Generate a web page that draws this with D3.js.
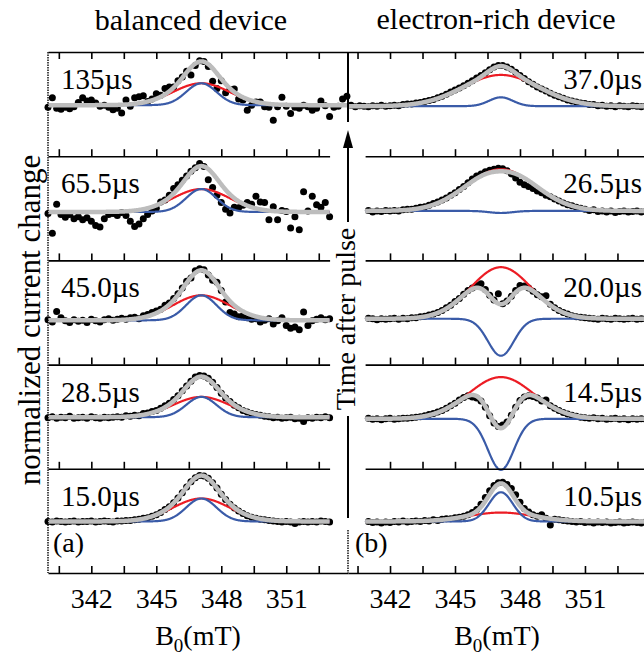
<html>
<script src="https://d3js.org/d3.v7.min.js"></script>
<style>
    body { margin: 0; background: white; }
    text { font-family: "Liberation Serif", "Times New Roman", serif; fill: black; }
</style>
<body>
<svg id="chart" width="644" height="657"></svg>
<script>
// field sweep (mT), shared by all panels
var field = [340.0, 340.2, 340.4, 340.6, 340.8, 341.0, 341.2, 341.4, 341.6, 341.8,
             342.0, 342.2, 342.4, 342.6, 342.8, 343.0, 343.2, 343.4, 343.6, 343.8,
             344.0, 344.2, 344.4, 344.6, 344.8, 345.0, 345.2, 345.4, 345.6, 345.8,
             346.0, 346.2, 346.4, 346.6, 346.8, 347.0, 347.2, 347.4, 347.6, 347.8,
             348.0, 348.2, 348.4, 348.6, 348.8, 349.0, 349.2, 349.4, 349.6, 349.8,
             350.0, 350.2, 350.4, 350.6, 350.8, 351.0, 351.2, 351.4, 351.6, 351.8,
             352.0, 352.2, 352.4, 352.6, 352.8, 353.0, 353.2, 353.4, 353.6, 353.8];

// balanced device, normalized current change
var balanced135 = [-0.06, 0.12, -0.08, -0.10, -0.06, -0.09, -0.05, 0.03, 0.12, 0.06,
                   0.08, 0.02, -0.04, -0.02, -0.06, -0.11, -0.08, -0.17, 0.08, -0.04,
                   0.12, 0.14, 0.16, 0.05, 0.10, 0.20, 0.17, 0.30, 0.33, 0.33,
                   0.45, 0.52, 0.63, 0.56, 0.74, 0.83, 0.82, 0.72, 0.44, 0.30,
                   0.45, 0.22, 0.28, 0.29, 0.10, 0.08, -0.12, -0.02, 0.04, 0.04,
                   -0.05, -0.06, -0.31, -0.05, 0.13, -0.04, -0.18, -0.06, -0.08, -0.02,
                   -0.05, -0.12, -0.08, 0.06, -0.03, -0.24, -0.06, -0.04, 0.10, 0.15];
var balanced65 = [-0.10, -0.48, 0.08, -0.12, -0.17, -0.12, -0.20, -0.16, -0.22, -0.18,
                  -0.25, -0.33, -0.36, -0.20, -0.12, -0.10, -0.14, -0.08, -0.14, -0.25,
                  -0.35, -0.30, -0.20, -0.12, -0.05, 0.00, 0.12, 0.16, 0.25, 0.38,
                  0.45, 0.54, 0.62, 0.71, 0.78, 0.86, 0.80, 0.55, 0.40, 0.25,
                  0.11, -0.02, -0.09, 0.02, 0.01, 0.06, 0.11, 0.08, 0.23, 0.12,
                  0.11, -0.22, 0.03, -0.22, -0.04, -0.06, -0.38, -0.16, -0.41, 0.32,
                  -0.05, 0.23, 0.07, 0.02, 0.11, -0.16, -0.08, -0.08, -0.08, -0.08];
var balanced45 = [-0.14, -0.18, 0.02, -0.10, -0.16, -0.19, -0.14, -0.17, -0.15, -0.19,
                  -0.13, -0.16, -0.18, -0.14, -0.12, -0.15, -0.13, -0.11, -0.13, -0.10,
                  -0.09, -0.12, -0.06, -0.04, 0.00, 0.03, 0.06, 0.14, 0.18, 0.27,
                  0.36, 0.47, 0.60, 0.66, 0.80, 0.84, 0.82, 0.72, 0.62, 0.58,
                  0.42, 0.20, 0.00, -0.03, -0.08, -0.06, -0.10, -0.13, -0.12, -0.18,
                  -0.15, -0.12, -0.22, -0.16, -0.10, -0.25, -0.30, -0.28, -0.33, 0.01,
                  -0.25, -0.16, -0.13, -0.10, -0.14, -0.12, -0.15, -0.15, -0.15, -0.15];
var balanced28 = [-0.02, 0.00, -0.03, -0.01, -0.02, 0.01, -0.03, -0.02, -0.01, -0.03,
                  0.00, -0.02, -0.03, -0.01, -0.02, -0.01, 0.00, -0.01, 0.02, 0.01,
                  0.03, 0.02, 0.06, 0.07, 0.10, 0.12, 0.16, 0.21, 0.26, 0.33,
                  0.40, 0.50, 0.59, 0.68, 0.76, 0.79, 0.78, 0.74, 0.66, 0.56,
                  0.45, 0.36, 0.29, 0.22, 0.17, 0.12, 0.09, 0.06, 0.04, 0.03,
                  0.01, 0.00, -0.02, -0.01, -0.03, -0.02, -0.01, -0.04, -0.03, -0.09,
                  -0.02, -0.03, -0.01, -0.02, 0.00, -0.02, -0.02, -0.02, -0.02, -0.02];
var balanced15 = [-0.01, -0.02, 0.00, -0.01, -0.02, -0.01, 0.00, -0.02, -0.01, -0.01,
                  0.00, -0.02, -0.01, 0.00, -0.01, -0.02, 0.00, 0.00, 0.01, 0.01,
                  0.02, 0.03, 0.05, 0.06, 0.09, 0.12, 0.16, 0.22, 0.27, 0.35,
                  0.44, 0.54, 0.65, 0.75, 0.83, 0.87, 0.86, 0.82, 0.73, 0.63,
                  0.51, 0.41, 0.32, 0.25, 0.19, 0.14, 0.10, 0.07, 0.05, 0.03,
                  0.02, 0.01, 0.00, -0.01, -0.02, -0.01, -0.02, -0.05, -0.02, -0.01,
                  -0.02, -0.01, -0.02, 0.00, -0.01, -0.02, -0.01, -0.01, -0.01, -0.01];

// electron-rich device
var rich37 = [-0.04, -0.02, -0.05, -0.03, -0.04, -0.05, -0.03, -0.04, -0.02, -0.04,
              -0.03, -0.02, -0.03, -0.01, 0.00, 0.00, 0.02, 0.03, 0.05, 0.07,
              0.09, 0.12, 0.15, 0.19, 0.23, 0.27, 0.31, 0.35, 0.40, 0.45,
              0.50, 0.55, 0.60, 0.66, 0.71, 0.74, 0.74, 0.71, 0.67, 0.61,
              0.55, 0.49, 0.43, 0.38, 0.33, 0.29, 0.25, 0.21, 0.17, 0.14,
              0.11, 0.08, 0.06, 0.04, 0.02, 0.01, -0.01, -0.01, -0.03, -0.02,
              -0.04, -0.03, -0.05, -0.03, -0.04, -0.05, -0.03, -0.04, -0.05, -0.04];
var rich26 = [-0.06, -0.04, -0.07, -0.05, -0.06, -0.04, -0.07, -0.05, -0.06, -0.04,
              -0.05, -0.04, -0.05, -0.03, -0.02, -0.02, 0.00, 0.02, 0.03, 0.06,
              0.09, 0.12, 0.16, 0.20, 0.25, 0.30, 0.36, 0.42, 0.49, 0.56,
              0.62, 0.66, 0.70, 0.73, 0.75, 0.77, 0.76, 0.72, 0.66, 0.58,
              0.50, 0.45, 0.42, 0.38, 0.33, 0.30, 0.25, 0.22, 0.18, 0.14,
              0.10, 0.07, 0.05, 0.02, 0.00, -0.02, -0.04, -0.03, -0.06, -0.05,
              -0.07, -0.05, -0.08, -0.06, -0.05, -0.07, -0.06, -0.05, -0.07, -0.06];
var rich20 = [-0.13, -0.11, -0.14, -0.12, -0.13, -0.11, -0.12, -0.14, -0.12, -0.13,
              -0.12, -0.11, -0.13, -0.11, -0.12, -0.10, -0.10, -0.08, -0.07, -0.05,
              -0.03, 0.00, 0.04, 0.09, 0.14, 0.21, 0.27, 0.35, 0.42, 0.47,
              0.52, 0.55, 0.44, 0.33, 0.24, 0.36, 0.17, 0.22, 0.31, 0.42,
              0.52, 0.51, 0.47, 0.41, 0.34, 0.30, 0.32, 0.16, 0.09, 0.04,
              0.00, -0.03, -0.06, -0.08, -0.09, -0.10, -0.11, -0.12, -0.13, -0.11,
              -0.12, -0.13, -0.11, -0.12, -0.13, -0.12, -0.11, -0.13, -0.12, -0.12];
var rich14 = [-0.05, -0.03, -0.04, -0.06, -0.04, -0.03, -0.05, -0.04, -0.06, -0.04,
              -0.03, -0.05, -0.04, -0.03, -0.03, -0.02, -0.01, 0.00, 0.02, 0.04,
              0.06, 0.09, 0.12, 0.16, 0.21, 0.26, 0.32, 0.37, 0.40, 0.38,
              0.36, 0.30, 0.18, 0.02, -0.12, -0.19, -0.16, -0.10, 0.03, 0.18,
              0.31, 0.38, 0.40, 0.39, 0.36, 0.30, 0.32, 0.21, 0.16, 0.12,
              0.08, 0.05, 0.03, 0.01, -0.01, -0.02, -0.03, -0.02, -0.04, -0.03,
              -0.05, -0.04, -0.03, -0.05, -0.04, -0.06, -0.04, -0.05, -0.04, -0.05];
var rich10 = [-0.03, -0.01, -0.04, -0.02, -0.05, -0.01, -0.03, -0.02, -0.04, -0.02,
              -0.03, -0.01, -0.02, 0.00, -0.02, -0.01, 0.00, -0.01, 0.01, 0.00,
              0.02, 0.01, 0.03, 0.04, 0.04, 0.06, 0.07, 0.09, 0.12, 0.16,
              0.22, 0.32, 0.45, 0.58, 0.68, 0.73, 0.74, 0.70, 0.62, 0.50,
              0.36, 0.24, 0.17, 0.12, 0.09, 0.12, 0.05, -0.08, 0.03, 0.02,
              0.01, 0.00, -0.01, -0.02, -0.01, -0.03, -0.02, -0.04, -0.02, -0.03,
              -0.02, -0.04, -0.03, -0.02, -0.04, -0.03, -0.02, -0.03, -0.04, -0.02];

// fit parameters: broad (red) + narrow (blue) Gaussian on a baseline
var balancedLabels = ["135\u00b5s", "65.5\u00b5s", "45.0\u00b5s", "28.5\u00b5s", "15.0\u00b5s"];
var balancedCenter = 347.08;
var balancedBase = [-0.02, -0.07, -0.15, -0.01, -0.01];
var balancedRedAmp = [0.42, 0.44, 0.48, 0.39, 0.44];
var balancedRedWidth = [1.3, 1.3, 1.3, 1.3, 1.3];
var balancedBlueAmp = [0.42, 0.44, 0.48, 0.39, 0.44];
var balancedBlueWidth = [0.7, 0.7, 0.7, 0.7, 0.7];

var richLabels = ["37.0\u00b5s", "26.5\u00b5s", "20.0\u00b5s", "14.5\u00b5s", "10.5\u00b5s"];
var richCenter = 347.12;
var richBase = [-0.04, -0.05, -0.12, -0.04, -0.01];
var richRedAmp = [0.60, 0.80, 0.99, 0.80, 0.17];
var richRedWidth = [1.75, 1.6, 1.4, 1.5, 1.5];
var richBlueAmp = [0.17, -0.04, -0.71, -0.98, 0.56];
var richBlueWidth = [0.55, 0.55, 0.6, 0.6, 0.55];

var tickValues = [340.5, 342, 343.5, 345, 346.5, 348, 349.5, 351, 352.5];
var tickLabels = [342, 345, 348, 351];

var balancedData = [balanced135, balanced65, balanced45, balanced28, balanced15];
var richData = [rich37, rich26, rich20, rich14, rich10];

var svg = d3.select("#chart");
var firstTop = 52, rowH = 104.2, bottomY = 573;
var xLeft = d3.scaleLinear().domain([340, 353.85]).range([48, 348]);
var xRight = d3.scaleLinear().domain([340, 353.85]).range([346.7, 646.7]);

function gauss(f, c, w) {
    return Math.exp(-(f - c) * (f - c) / (2 * w * w));
}

function drawPanel(xFull, extent, rowTop, values, fit) {
    var x = d3.scaleLinear().domain(extent).range(extent.map(xFull));
    var y = d3.scaleLinear().domain([-1, 1]).range([rowTop + rowH, rowTop]);
    var g = svg.append("g");

    var pts = field.map(function(f, i) { return {f: f, v: values[i]}; })
        .filter(function(d) { return d.f >= extent[0] - 1e-6 && d.f <= extent[1] + 1e-6; });
    g.selectAll("circle").data(pts).enter().append("circle")
        .attr("cx", function(d) { return x(d.f); })
        .attr("cy", function(d) { return y(d.v); })
        .attr("r", 3.5)
        .attr("fill", "black");

    var fine = d3.range(extent[0], extent[1] + 0.001, 0.02);
    var red = function(f) { return fit.base + fit.redAmp * gauss(f, fit.center, fit.redWidth); };
    var blue = function(f) { return fit.base + fit.blueAmp * gauss(f, fit.center, fit.blueWidth); };
    var sum = function(f) { return red(f) + blue(f) - fit.base; };
    var line = d3.line().x(function(d) { return x(d[0]); }).y(function(d) { return y(d[1]); });

    [[red, "#ec1c24", 2.2], [blue, "#3a5ba8", 2.2], [sum, "#bdbdbd", 4.5]].forEach(function(c) {
        g.append("path")
            .datum(fine.map(function(f) { return [f, c[0](f)]; }))
            .attr("d", line)
            .attr("fill", "none")
            .attr("stroke", c[1])
            .attr("stroke-width", c[2]);
    });
}

function drawAxis(xs, yPos, isTop, withLabels) {
    var dom = xs.domain();
    var ticks = tickValues.filter(function(t) { return t >= dom[0] && t <= dom[1]; });
    var axis = (isTop ? d3.axisTop(xs) : d3.axisBottom(xs))
        .tickValues(ticks)
        .tickSizeInner(-7)
        .tickSizeOuter(0)
        .tickPadding(15)
        .tickFormat(function(d) { return withLabels && tickLabels.indexOf(d) >= 0 ? d : ""; });
    var g = svg.append("g").attr("transform", "translate(0," + yPos + ")").call(axis);
    g.select(".domain").attr("stroke-width", 1.6);
    g.selectAll(".tick line").attr("stroke-width", 1.6);
    g.selectAll(".tick text")
        .attr("font-family", "Liberation Serif, serif")
        .attr("font-size", 28)
        .attr("fill", "black");
}

for (var i = 0; i < 5; i++) {
    var rowTop = firstTop + i * rowH;
    var leftExtent = i === 0 ? [340, 353.85] : [340, 353.0];
    var rightExtent = i === 0 ? [340.06, 353.85] : [340.85, 353.85];

    drawPanel(xLeft, leftExtent, rowTop, balancedData[i], {
        center: balancedCenter, base: balancedBase[i],
        redAmp: balancedRedAmp[i], redWidth: balancedRedWidth[i],
        blueAmp: balancedBlueAmp[i], blueWidth: balancedBlueWidth[i]
    });
    drawPanel(xRight, rightExtent, rowTop, richData[i], {
        center: richCenter, base: richBase[i],
        redAmp: richRedAmp[i], redWidth: richRedWidth[i],
        blueAmp: richBlueAmp[i], blueWidth: richBlueWidth[i]
    });

    svg.append("text").attr("x", 61).attr("y", rowTop + 37)
        .attr("font-size", 29).text(balancedLabels[i]);
    svg.append("text").attr("x", 642).attr("y", rowTop + 37)
        .attr("text-anchor", "end").attr("font-size", 29).text(richLabels[i]);

    // divider between stacked panels
    if (i > 0) {
        drawAxis(d3.scaleLinear().domain([340, 353.0]).range([xLeft(340), xLeft(353.0)]), rowTop, false, false);
        drawAxis(d3.scaleLinear().domain([340.85, 353.85]).range([xRight(340.85), xRight(353.85)]), rowTop, false, false);
    }
}

// outer frame
var xRightFrame = d3.scaleLinear().domain([340.06, 353.85]).range([xRight(340.06), xRight(353.85)]);
drawAxis(xLeft, firstTop, true, false);
drawAxis(xRightFrame, firstTop, true, false);
drawAxis(xLeft, bottomY, false, true);
drawAxis(xRightFrame, bottomY, false, true);

svg.append("line").attr("x1", 48).attr("x2", 48).attr("y1", firstTop).attr("y2", bottomY)
    .attr("stroke", "black").attr("stroke-width", 1.4).attr("stroke-dasharray", "1.5,1");
svg.append("line").attr("x1", 348).attr("x2", 348).attr("y1", 530).attr("y2", bottomY)
    .attr("stroke", "black").attr("stroke-width", 1.4).attr("stroke-dasharray", "1.5,1");
svg.append("line").attr("x1", 348).attr("x2", 348).attr("y1", firstTop).attr("y2", 122)
    .attr("stroke", "black").attr("stroke-width", 2);

// time arrow
svg.append("path").attr("d", "M348,130 L343,148 L353,148 Z").attr("fill", "black");
svg.append("line").attr("x1", 348).attr("x2", 348).attr("y1", 146).attr("y2", 222)
    .attr("stroke", "black").attr("stroke-width", 2);
svg.append("line").attr("x1", 348).attr("x2", 348).attr("y1", 416).attr("y2", 518)
    .attr("stroke", "black").attr("stroke-width", 2);
svg.append("text").attr("transform", "translate(355,319) rotate(-90)")
    .attr("text-anchor", "middle").attr("font-size", 28).text("Time after pulse");

// titles and axis labels
svg.append("text").attr("x", 191).attr("y", 30).attr("text-anchor", "middle")
    .attr("font-size", 30).text("balanced device");
svg.append("text").attr("x", 496).attr("y", 29).attr("text-anchor", "middle")
    .attr("font-size", 30).text("electron-rich device");
svg.append("text").attr("transform", "translate(40,320) rotate(-90)")
    .attr("text-anchor", "middle").attr("font-size", 31).text("normalized current change");

[198, 497].forEach(function(cx) {
    var t = svg.append("text").attr("x", cx).attr("y", 645)
        .attr("text-anchor", "middle").attr("font-size", 28);
    t.append("tspan").text("B");
    t.append("tspan").attr("dy", 7).attr("font-size", 19).text("0");
    t.append("tspan").attr("dy", -7).text("(mT)");
});

svg.append("text").attr("x", 53).attr("y", 552).attr("font-size", 28).text("(a)");
svg.append("text").attr("x", 355).attr("y", 552).attr("font-size", 28).text("(b)");
</script>
</body>
</html>
